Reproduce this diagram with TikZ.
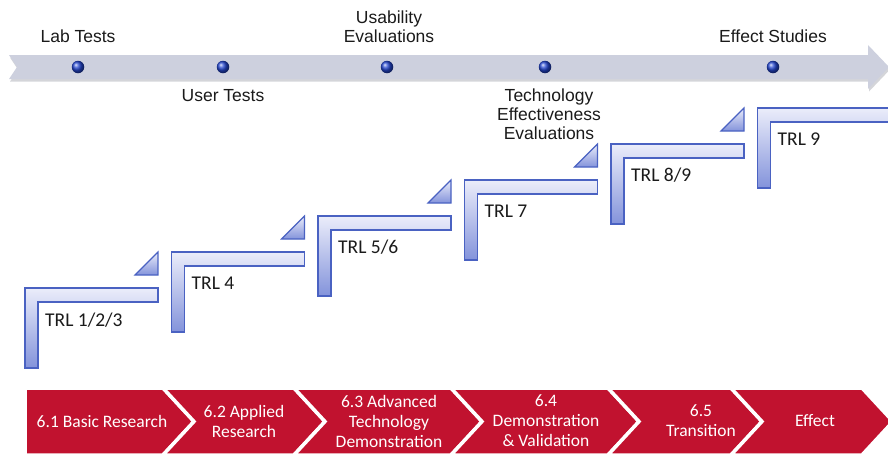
\documentclass[tikz,border=0pt]{standalone}
\usepackage{fontspec}
\setmainfont{Liberation Sans}
\newfontfamily\bodyfont{Carlito}

\definecolor{band}{HTML}{CDD0DE}
\definecolor{bandshadow}{HTML}{A9ABB4}
\definecolor{dotblue}{HTML}{2446D0}
\definecolor{stepedge}{HTML}{4A62C2}
\definecolor{steptop}{HTML}{EBEDFA}
\definecolor{stepbot}{HTML}{8393DB}
\definecolor{phasered}{HTML}{C1122F}
\definecolor{inktext}{HTML}{1A1A1A}

\tikzset{
  dot/.style={circle, minimum size=12.5pt, inner sep=0pt, shading=ball, ball color=dotblue},
  toplabel/.style={font=\fontsize{17.5}{19}\selectfont, text=inktext, align=center, inner sep=0pt},
  trl/.style={font=\bodyfont\fontsize{19.5}{22}\selectfont, text=inktext, anchor=west, inner sep=0pt},
  phase/.style={font=\bodyfont\fontsize{17.5}{20}\selectfont, text=white, align=center, inner sep=0pt},
  stepshade/.style={top color=steptop, bottom color=stepbot, draw=stepedge, line width=1.2pt, line join=miter},
  phaseshape/.style={fill=phasered, draw=white, line width=3.5pt, line join=miter},
  pics/trlbar/.style={code={
    \path[stepshade] (0,0) -- (#1,0) -- (#1,14) -- (13,14) -- (13,80) -- (0,80) -- cycle;
  }},
  pics/trltip/.style={code={
    \path[stepshade] (110,-13) -- (133,-13) -- (133,-36) -- cycle;
  }}
}

\begin{document}
\begin{tikzpicture}[x=1pt, y=-1pt]
\useasboundingbox (0,0) rectangle (888,453);
\clip (0,0) rectangle (888,453);

% timeline arrow with soft shadow
\fill[bandshadow, opacity=.5] (10,57.5) -- (869,57.5) -- (869,47.5) -- (890,69.5) -- (869,91.5) -- (869,81.5) -- (10,81.5) -- (18,69.5) -- cycle;
\fill[band] (9,55) -- (868,55) -- (868,45) -- (889,67) -- (868,89) -- (868,79) -- (9,79) -- (17,67) -- cycle;

% milestones on the timeline
\node[dot] (d1) at (78,67) {};
\node[dot] (d2) at (223,67) {};
\node[dot] (d3) at (387,67) {};
\node[dot] (d4) at (545,67) {};
\node[dot] (d5) at (773,67) {};

\node[toplabel] (l1) at (78,36) {Lab Tests};
\node[toplabel] (l2) at (223,96) {User Tests};
\node[toplabel] (l3) at (389,27) {Usability\\Evaluations};
\node[toplabel] (l4) at (549,114) {Technology\\Effectiveness\\Evaluations};
\node[toplabel] (l5) at (773,36) {Effect Studies};

% readiness staircase
\pic at (25,288) {trlbar=133};
\pic at (171.5,252) {trlbar=133};
\pic at (318,216) {trlbar=133};
\pic at (464.5,180) {trlbar=133};
\pic at (611,144) {trlbar=133};
\pic at (757.5,108) {trlbar=200};

\pic at (25,288) {trltip};
\pic at (171.5,252) {trltip};
\pic at (318,216) {trltip};
\pic at (464.5,180) {trltip};
\pic at (611,144) {trltip};

\node[trl] (t1) at (45,320) {TRL 1/2/3};
\node[trl] (t2) at (191.5,283) {TRL 4};
\node[trl] (t3) at (338,247) {TRL 5/6};
\node[trl] (t4) at (484.5,211) {TRL 7};
\node[trl] (t5) at (631,175) {TRL 8/9};
\node[trl] (t6) at (777.5,139) {TRL 9};

% budget activity chevrons
\path[phaseshape] (25,388) -- (163,388) -- (194,421.5) -- (163,455) -- (25,455) -- cycle;
\path[phaseshape] (163,388) -- (294,388) -- (325,421.5) -- (294,455) -- (163,455) -- (194,421.5) -- cycle;
\path[phaseshape] (294,388) -- (451,388) -- (482,421.5) -- (451,455) -- (294,455) -- (325,421.5) -- cycle;
\path[phaseshape] (451,388) -- (608,388) -- (639,421.5) -- (608,455) -- (451,455) -- (482,421.5) -- cycle;
\path[phaseshape] (608,388) -- (731,388) -- (762,421.5) -- (731,455) -- (608,455) -- (639,421.5) -- cycle;
\path[phaseshape] (731,388) -- (862,388) -- (893,421.5) -- (862,455) -- (731,455) -- (762,421.5) -- cycle;

\node[phase] (p1) at (102,421) {6.1 Basic Research};
\node[phase] (p2) at (244,421) {6.2 Applied\\Research};
\node[phase] (p3) at (389,421) {6.3 Advanced\\Technology\\Demonstration};
\node[phase] (p4) at (546,421) {6.4\\Demonstration\\\& Validation};
\node[phase] (p5) at (701,421) {6.5\\Transition};
\node[phase] (p6) at (815,421) {Effect};
\end{tikzpicture}
\end{document}
